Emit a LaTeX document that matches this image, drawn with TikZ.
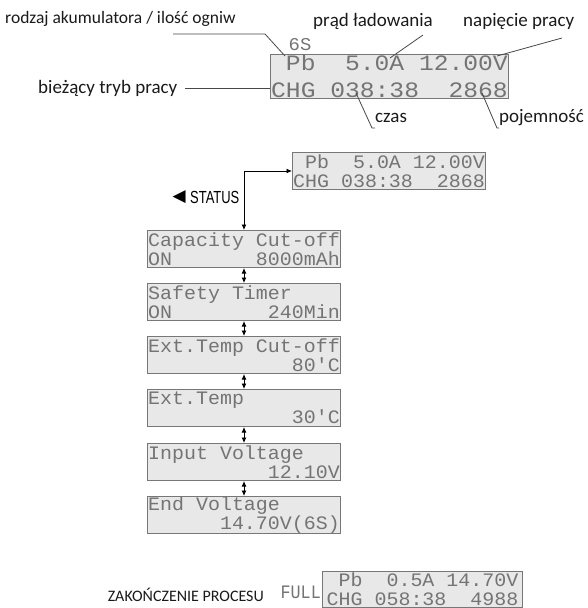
\documentclass[tikz,border=0pt]{standalone}
\usepackage{fontspec}
\setmainfont{Carlito}
\newfontfamily\lcdwide[FakeStretch=1.12]{Liberation Mono}
\newfontfamily\lcdmid[FakeStretch=1.05]{Liberation Mono}
\newfontfamily\lcdnarrow[FakeStretch=0.88]{Liberation Mono}
\newfontfamily\condfont[FakeStretch=0.74]{Liberation Sans}
\newfontfamily\symfont{DejaVu Sans}
\usetikzlibrary{arrows.meta}
\definecolor{lcdbg}{HTML}{E8E8E8}
\definecolor{lcdfg}{HTML}{747474}
\definecolor{lcdedge}{HTML}{777777}
\definecolor{ink}{HTML}{1A1A1A}
\begin{document}
\begin{tikzpicture}[x=1pt,y=-1pt,
  lcdbox/.style={draw=lcdedge, line width=1pt, fill=lcdbg, text=lcdfg,
    align=left, anchor=north west, inner sep=0pt,
    minimum width=193pt, minimum height=37pt,
    font=\lcdmid\fontsize{19}{19}\selectfont},
  bigbox/.style={lcdbox, minimum width=238pt, minimum height=44pt,
    font=\lcdwide\fontsize{22}{27}\selectfont},
  lab/.style={font=\fontsize{19}{21}\selectfont, text=ink, anchor=west, inner sep=0pt},
  smalllab/.style={lab, font=\fontsize{17.5}{19}\selectfont},
  leader/.style={draw=ink!80, line width=0.8pt},
  dbl/.style={draw=black, line width=0.9pt, {Latex[length=5.5pt,width=5pt]}-{Latex[length=5.5pt,width=5pt]}}
]
\useasboundingbox (0,0) rectangle (588,608);

% ---------- top annotated display ----------
\node[bigbox] (top) at (270,54) {~Pb~~5.0A~12.00V\\CHG~038:38~~2868};
\node[text=lcdfg, font=\lcdmid\fontsize{18}{18}\selectfont, inner sep=0pt, anchor=south] (six) at (300,51) {6S};

\node[smalllab] (rodzaj) at (5,19) {rodzaj akumulatora / ilość ogniw};
\node[lab] (prad) at (313,21) {prąd ładowania};
\node[lab] (napiecie) at (463,21) {napięcie pracy};
\node[lab] (biez) at (38,88) {bieżący tryb pracy};
\node[lab] (czas) at (375,118) {czas};
\node[lab] (poj) at (499,118) {pojemność};

\coordinate (rA) at (173,34);
\coordinate (rB) at (265,34);
\coordinate (rC) at (285,56);
\draw[leader] (rA) -- (rB) -- (rC);

\coordinate (pA) at (423,35);
\coordinate (pB) at (390,58);
\draw[leader] (pA) -- (pB);

\coordinate (nA) at (562,38);
\coordinate (nB) at (497,56);
\draw[leader] (nA) -- (nB);

\draw[leader] ([xshift=8pt]biez.east) -- (biez.east -| top.west);

\coordinate (cA) at (356,93);
\coordinate (cB) at (372,128);
\draw[leader] (cA) -- (cB) -- (cB -| czas.west);

\coordinate (qA) at (482,93);
\coordinate (qB) at (497,128);
\draw[leader] (qA) -- (qB) -- (qB -| poj.west);

% ---------- status menu ----------
\node[lcdbox] (st) at (292,152) {~Pb~~5.0A~12.00V\\CHG~038:38~~2868};

\node[font=\symfont\fontsize{17}{17}\selectfont, inner sep=0pt, anchor=east] (tri) at (186,197) {◀};
\node[font=\condfont\fontsize{17.5}{17.5}\selectfont, inner sep=0pt, anchor=west] (status) at (190,197) {STATUS};

\node[lcdbox] (cap)  at (147,230) {Capacity~Cut-off\\ON~~~~~~~8000mAh};
\node[lcdbox] (safe) at (147,283) {Safety~Timer\\ON~~~~~~~~240Min};
\node[lcdbox] (etc)  at (147,336) {Ext.Temp~Cut-off\\~~~~~~~~~~~~80'C};
\node[lcdbox] (et)   at (147,389) {Ext.Temp\\~~~~~~~~~~~~30'C};
\node[lcdbox] (inv)  at (147,443) {Input~Voltage\\~~~~~~~~~~12.10V};
\node[lcdbox] (endv) at (147,496) {End~Voltage\\~~~~~~14.70V(6S)};

\draw[dbl] (cap.north) |- (st.west);
\draw[dbl] (cap.south) -- (safe.north);
\draw[dbl] (safe.south) -- (etc.north);
\draw[dbl] (etc.south) -- (et.north);
\draw[dbl] (et.south) -- (inv.north);
\draw[dbl] (inv.south) -- (endv.north);

% ---------- end of process ----------
\node[lcdbox, minimum width=200pt, minimum height=36pt] (fin) at (322,571) {~Pb~~0.5A~14.70V\\CHG~058:38~~4988};
\node[text=lcdfg, font=\lcdnarrow\fontsize{19}{19}\selectfont, inner sep=0pt, anchor=east] (full) at (321,592) {FULL};
\node[lab, font=\fontsize{16}{18}\selectfont, anchor=east] (zak) at (264,595) {ZAKOŃCZENIE PROCESU};
\end{tikzpicture}
\end{document}
